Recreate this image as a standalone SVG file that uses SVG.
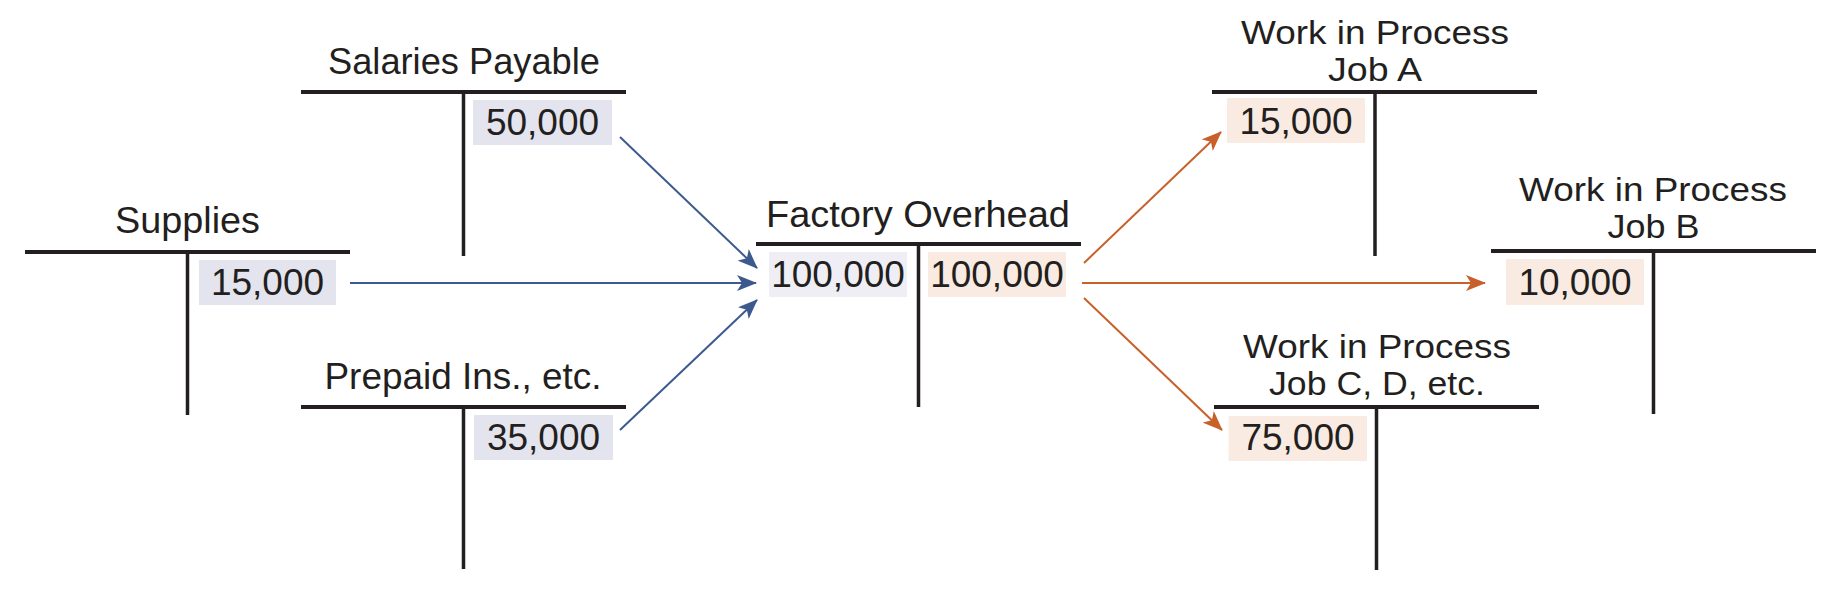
<svg xmlns="http://www.w3.org/2000/svg" width="1841" height="596" viewBox="0 0 1841 596">
<style>
.bar{stroke:#231f20;stroke-width:4;fill:none}
.stem{stroke:#231f20;stroke-width:3.5;fill:none}
.title{font-family:"Liberation Sans",Arial,sans-serif;font-size:37px;fill:#231f20;text-anchor:middle}
.t2{font-family:"Liberation Sans",Arial,sans-serif;font-size:33px;fill:#231f20;text-anchor:middle}
.num{font-family:"Liberation Sans",Arial,sans-serif;font-size:37px;fill:#231f20;text-anchor:middle}
.lav{fill:#e3e4ed}
.lav2{fill:#eeeef4}
.peach{fill:#f9ebe1}
.blue{stroke:#3d5a8f;stroke-width:2;fill:none;marker-end:url(#ab)}
.orange{stroke:#c8602a;stroke-width:2;fill:none;marker-end:url(#ao)}
</style>
<defs>
<marker id="ab" viewBox="0 0 20 16" markerWidth="20" markerHeight="16" refX="19" refY="8" orient="auto" markerUnits="userSpaceOnUse"><path d="M0,0 L20,8 L0,16 L5,8 Z" fill="#3d5a8f"/></marker>
<marker id="ao" viewBox="0 0 20 16" markerWidth="20" markerHeight="16" refX="19" refY="8" orient="auto" markerUnits="userSpaceOnUse"><path d="M0,0 L20,8 L0,16 L5,8 Z" fill="#c8602a"/></marker>
</defs>
<rect width="1841" height="596" fill="#ffffff"/>

<g id="salaries-payable">
<text class="title" x="464" y="74" textLength="272" lengthAdjust="spacingAndGlyphs">Salaries Payable</text>
<line class="bar" x1="301" y1="92" x2="626" y2="92"/>
<line class="stem" x1="463.5" y1="92" x2="463.5" y2="256"/>
<rect class="lav" x="473" y="100" width="139" height="45"/>
<text class="num" x="542.5" y="135">50,000</text>
</g>

<g id="supplies">
<text class="title" x="187.5" y="233" textLength="145" lengthAdjust="spacingAndGlyphs">Supplies</text>
<line class="bar" x1="25" y1="252" x2="350" y2="252"/>
<line class="stem" x1="187.5" y1="252" x2="187.5" y2="415"/>
<rect class="lav" x="199" y="260" width="137" height="45"/>
<text class="num" x="267.5" y="295">15,000</text>
</g>

<g id="prepaid">
<text class="title" x="463" y="389" textLength="277" lengthAdjust="spacingAndGlyphs">Prepaid Ins., etc.</text>
<line class="bar" x1="301" y1="407" x2="626" y2="407"/>
<line class="stem" x1="463.5" y1="407" x2="463.5" y2="569"/>
<rect class="lav" x="474" y="415" width="139" height="45"/>
<text class="num" x="543.5" y="450">35,000</text>
</g>

<g id="factory-overhead">
<text class="title" x="918" y="227" textLength="304" lengthAdjust="spacingAndGlyphs">Factory Overhead</text>
<line class="bar" x1="756" y1="244" x2="1081" y2="244"/>
<line class="stem" x1="918.5" y1="244" x2="918.5" y2="407"/>
<rect class="lav2" x="769" y="252" width="138" height="45"/>
<text class="num" x="838" y="287">100,000</text>
<rect class="peach" x="928" y="252" width="138" height="45"/>
<text class="num" x="997" y="287">100,000</text>
</g>

<g id="wip-job-a">
<text class="t2" x="1375" y="44" textLength="268" lengthAdjust="spacingAndGlyphs">Work in Process</text>
<text class="t2" x="1375" y="81" textLength="94" lengthAdjust="spacingAndGlyphs">Job A</text>
<line class="bar" x1="1212" y1="92" x2="1537" y2="92"/>
<line class="stem" x1="1375" y1="92" x2="1375" y2="256"/>
<rect class="peach" x="1227" y="98" width="138" height="45"/>
<text class="num" x="1296" y="134">15,000</text>
</g>

<g id="wip-job-b">
<text class="t2" x="1653" y="201" textLength="268" lengthAdjust="spacingAndGlyphs">Work in Process</text>
<text class="t2" x="1653.5" y="238" textLength="92" lengthAdjust="spacingAndGlyphs">Job B</text>
<line class="bar" x1="1491" y1="251" x2="1816" y2="251"/>
<line class="stem" x1="1653.5" y1="251" x2="1653.5" y2="414"/>
<rect class="peach" x="1506" y="259" width="138" height="46"/>
<text class="num" x="1575" y="295">10,000</text>
</g>

<g id="wip-job-c">
<text class="t2" x="1377" y="358" textLength="268" lengthAdjust="spacingAndGlyphs">Work in Process</text>
<text class="t2" x="1377" y="395" textLength="216" lengthAdjust="spacingAndGlyphs">Job C, D, etc.</text>
<line class="bar" x1="1214" y1="407" x2="1539" y2="407"/>
<line class="stem" x1="1376.5" y1="407" x2="1376.5" y2="570"/>
<rect class="peach" x="1228.5" y="416" width="138.5" height="45"/>
<text class="num" x="1298" y="450">75,000</text>
</g>

<g id="connectors">
<line class="blue" x1="620" y1="137" x2="757" y2="268"/>
<line class="blue" x1="350" y1="283" x2="756" y2="283"/>
<line class="blue" x1="620" y1="430" x2="757" y2="300"/>
<line class="orange" x1="1084" y1="263" x2="1221" y2="132"/>
<line class="orange" x1="1082" y1="283" x2="1485" y2="283"/>
<line class="orange" x1="1084" y1="298" x2="1222" y2="430"/>
</g>
</svg>
